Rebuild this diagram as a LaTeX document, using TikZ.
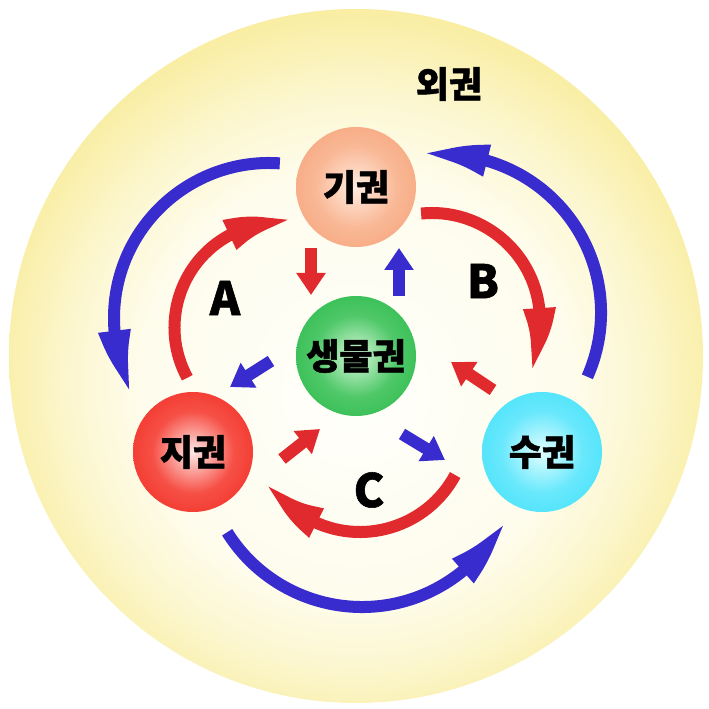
\documentclass[tikz,border=0pt]{standalone}
\usepackage{fontspec}
\newfontfamily\kr{Noto Sans CJK KR}[BoldFeatures={FakeBold=1.2}]
\usetikzlibrary{arrows.meta,bending,calc}
\definecolor{bluearrow}{RGB}{56,44,206}
\definecolor{redarrow}{RGB}{224,42,46}
\definecolor{bgA}{RGB}{255,255,252}
\definecolor{bgB}{RGB}{254,252,236}
\definecolor{bgC}{RGB}{252,246,205}
\definecolor{bgD}{RGB}{249,238,165}
\definecolor{bgE}{RGB}{246,231,130}
\definecolor{bgF}{RGB}{243,224,100}
\definecolor{peachC}{RGB}{255,236,224}
\definecolor{peachM}{RGB}{249,184,150}
\definecolor{peachE}{RGB}{245,160,118}
\definecolor{greenC}{RGB}{215,248,218}
\definecolor{greenM}{RGB}{80,200,105}
\definecolor{greenE}{RGB}{36,184,70}
\definecolor{redC}{RGB}{255,232,230}
\definecolor{redM}{RGB}{246,80,70}
\definecolor{redE}{RGB}{240,40,30}
\definecolor{cyanC}{RGB}{225,254,255}
\definecolor{cyanM}{RGB}{105,232,252}
\definecolor{cyanE}{RGB}{60,224,250}
\pgfdeclareradialshading{bgshade}{\pgfpoint{0bp}{-3bp}}{color(0bp)=(bgA); color(15.5bp)=(bgB); color(21bp)=(bgC); color(26bp)=(bgD); color(31bp)=(bgE); color(35.4bp)=(bgF); color(50bp)=(bgF)}
\pgfdeclareradialshading{peachball}{\pgfpoint{0bp}{0bp}}{color(0bp)=(peachC); color(17bp)=(peachM); color(35.4bp)=(peachE); color(50bp)=(peachE)}
\pgfdeclareradialshading{greenball}{\pgfpoint{0bp}{0bp}}{color(0bp)=(greenC); color(17bp)=(greenM); color(35.4bp)=(greenE); color(50bp)=(greenE)}
\pgfdeclareradialshading{redball}{\pgfpoint{0bp}{0bp}}{color(0bp)=(redC); color(17bp)=(redM); color(35.4bp)=(redE); color(50bp)=(redE)}
\pgfdeclareradialshading{cyanball}{\pgfpoint{0bp}{0bp}}{color(0bp)=(cyanC); color(17bp)=(cyanM); color(35.4bp)=(cyanE); color(50bp)=(cyanE)}
\begin{document}
\begin{tikzpicture}[x=1pt,y=1pt,
  ball/.style={circle, minimum size=120pt, inner sep=0pt, shade,
    font=\kr\bfseries\fontsize{36}{36}\selectfont},
  lbl/.style={font=\kr\bfseries\fontsize{46}{46}\selectfont, inner sep=0pt},
  bluearc/.style={draw=bluearrow, line width=12pt, -{Triangle[length=66pt,width=29pt,bend]}},
  redarc/.style={draw=redarrow, line width=12pt, -{Triangle[length=66pt,width=29pt,bend]}},
  bluestraight/.style={draw=bluearrow, line width=12pt, -{Triangle[length=22pt,width=28pt]}},
  redstraight/.style={draw=redarrow, line width=12pt, -{Triangle[length=22pt,width=28pt]}}]
\useasboundingbox (0,0) rectangle (709,709);
\fill[white] (0,0) rectangle (709,709);
\shade[shading=bgshade] (356,353) circle[radius=347];
\node[font=\kr\bfseries\fontsize{36}{36}\selectfont] (oe) at (449,625) {외권};

\node[ball, shading=peachball] (gi) at (356,522) {기권};
\node[ball, shading=greenball] (bio) at (356,353) {생물권};
\node[ball, shading=redball] (ji) at (193,257) {지권};
\node[ball, shading=cyanball] (su) at (542,257) {수권};

\node[lbl] (A) at (225,411) {A};
\node[lbl] (B) at (483,428) {B};
\node[lbl] (C) at (369,219) {C};

% arc centres
\coordinate (cBL) at (269,391);
\coordinate (cBR) at (443,396.5);
\coordinate (cBB) at (362,261);
\coordinate (cRA) at (279.5,381.5);
\coordinate (cRB) at (432,388);
\coordinate (cRC) at (360,285);

% outer blue arcs
\draw[bluearc] ([shift={(86:155)}]cBL) arc[start angle=86, end angle=209, radius=155];
\draw[bluearc] ([shift={(-24:158)}]cBR) arc[start angle=-24, end angle=97.6, radius=158];
\draw[bluearc] ([shift={(212:159)}]cBB) arc[start angle=212, end angle=333, radius=159];

% inner red arcs
\draw[redarc] ([shift={(208.6:105)}]cRA) arc[start angle=208.6, end angle=82.6, radius=105];
\draw[redarc] ([shift={(95.8:108)}]cRB) arc[start angle=95.8, end angle=-28, radius=108];
\draw[redarc] ([shift={(-28.2:108)}]cRC) arc[start angle=-28.2, end angle=-148.6, radius=108];

% straight arrows
\coordinate (s1a) at (311,461); \coordinate (s1b) at (311,414);
\coordinate (s2a) at (399,413); \coordinate (s2b) at (399,461);
\coordinate (s3a) at (271,348); \coordinate (s3b) at (230,322);
\coordinate (s4a) at (493,319); \coordinate (s4b) at (451,347);
\coordinate (s5a) at (282,250); \coordinate (s5b) at (320,280);
\coordinate (s6a) at (402,275); \coordinate (s6b) at (445,249);
\draw[redstraight] (s1a) -- (s1b);
\draw[bluestraight] (s2a) -- (s2b);
\draw[bluestraight] (s3a) -- (s3b);
\draw[redstraight] (s4a) -- (s4b);
\draw[redstraight] (s5a) -- (s5b);
\draw[bluestraight] (s6a) -- (s6b);
\end{tikzpicture}
\end{document}
